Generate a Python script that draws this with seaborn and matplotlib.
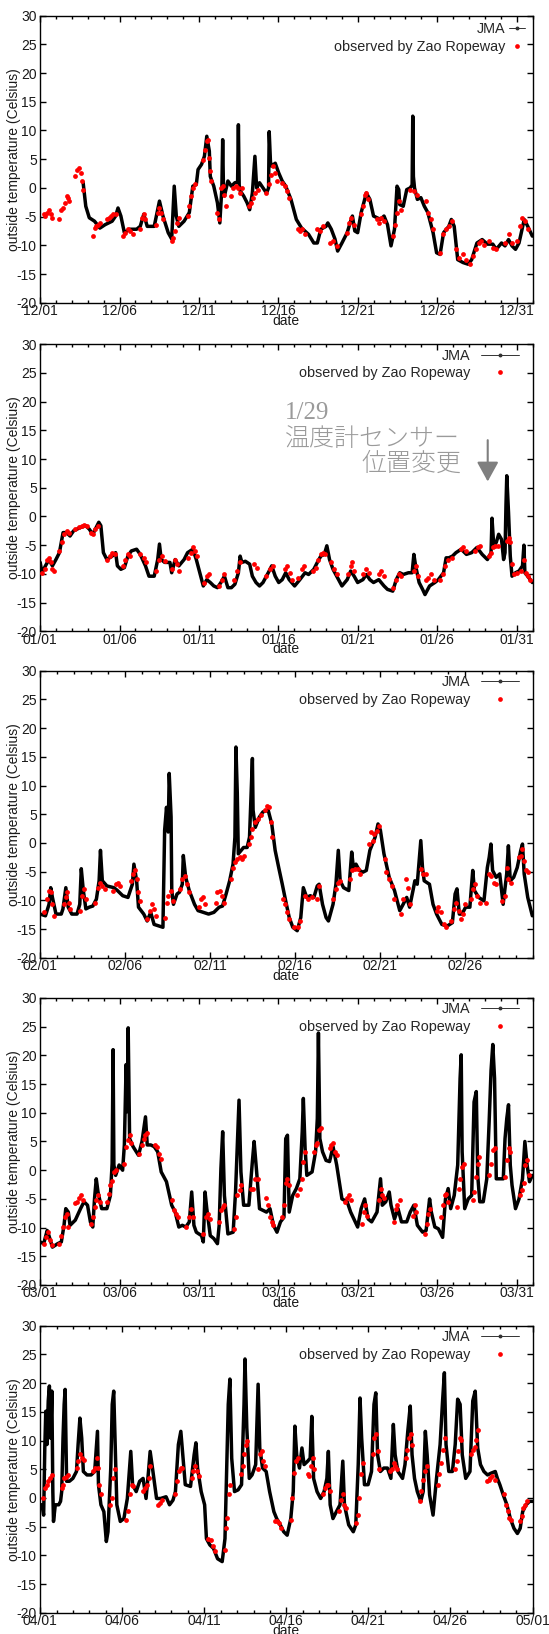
import matplotlib
matplotlib.use('Agg')
import matplotlib.pyplot as plt
from matplotlib.lines import Line2D
from matplotlib.ticker import MultipleLocator
import pandas as pd
import seaborn as sns

# ---------------- data (day offset from 1st of month, temperature in Celsius) ----------------
dec_jma = [(2.70,1.0),(2.87,-3.2),(3.09,-5.2),(3.42,-5.8),(3.76,-7.0),(4.09,-6.4),(4.53,-5.8),(4.75,-4.9),(4.90,-3.5),(5.08,-4.9),(5.30,-7.8),(5.63,-7.2),(6.07,-7.2),(6.30,-6.7),(6.52,-4.6),(6.74,-6.7),(7.18,-6.7),(7.51,-2.3),(7.73,-4.9),(8.06,-7.8),(8.28,-8.9),(8.44,0.3),(8.57,-4.9),(8.73,-6.7),(9.06,-5.8),(9.39,-4.3),(9.61,0.3),(9.83,0.6),(9.94,3.2),(10.16,4.1),(10.34,5.5),(10.49,9.0),(10.65,6.4),(10.71,2.0),(10.93,0.3),(11.16,-2.6),(11.31,-6.1),(11.44,0.0),(11.49,8.4),(11.54,0.0),(11.60,-1.4),(11.82,1.2),(12.04,0.3),(12.26,0.9),(12.43,1.0),(12.48,11.0),(12.53,0.5),(12.59,-0.5),(12.81,-1.4),(13.03,-2.6),(13.19,-3.8),(13.36,-0.9),(13.52,5.5),(13.63,0.0),(13.81,0.9),(14.25,-0.9),(14.38,0.0),(14.42,9.8),(14.50,4.5),(14.58,3.8),(14.80,4.3),(15.02,2.6),(15.24,1.2),(15.46,0.3),(15.79,-2.0),(16.13,-5.5),(16.46,-7.0),(16.90,-8.1),(17.23,-9.6),(17.45,-9.6),(17.67,-7.2),(18.00,-6.7),(18.11,-6.1),(18.33,-7.2),(18.56,-8.9),(18.73,-11.0),(19.00,-9.6),(19.33,-7.8),(19.55,-5.8),(19.66,-4.9),(19.81,-7.5),(19.99,-7.8),(20.21,-4.3),(20.54,-0.9),(20.76,-2.0),(20.99,-4.9),(21.43,-5.5),(21.65,-4.9),(21.87,-6.4),(22.09,-10.1),(22.31,-7.2),(22.47,0.3),(22.58,-0.3),(22.64,-2.9),(22.86,-3.2),(23.08,-0.3),(23.30,0.0),(23.42,0.5),(23.46,12.5),(23.50,2.0),(23.57,0.0),(23.75,-2.0),(23.97,-1.7),(24.19,-3.2),(24.41,-4.3),(24.74,-7.8),(24.96,-11.3),(25.18,-11.6),(25.40,-7.8),(25.73,-6.7),(25.89,-5.5),(26.07,-6.7),(26.29,-12.5),(26.62,-13.0),(26.95,-13.3),(27.17,-12.5),(27.50,-9.6),(27.83,-9.0),(28.16,-9.8),(28.50,-9.8),(28.72,-10.7),(29.05,-9.6),(29.27,-10.1),(29.49,-9.0),(29.71,-10.1),(29.93,-10.7),(30.15,-9.6),(30.48,-5.5),(30.70,-6.7),(30.99,-8.4)]

dec_zao = [(0.22,-4.6),(0.33,-4.9),(0.44,-4.3),(0.55,-3.9),(0.66,-4.6),(0.77,-5.2),(1.21,-5.5),(1.33,-3.9),(1.44,-3.5),(1.55,-2.6),(1.66,-1.4),(1.77,-1.7),(1.80,-2.3),(2.21,2.0),(2.32,3.2),(2.43,3.5),(2.54,2.6),(2.61,1.2),(2.70,-0.3),(3.31,-8.4),(3.42,-7.0),(3.53,-6.7),(3.64,-6.4),(3.76,-6.1),(4.20,-5.5),(4.33,-5.2),(4.46,-4.9),(4.59,-4.6),(4.75,-4.6),(5.19,-8.4),(5.35,-7.8),(5.52,-7.2),(5.68,-7.5),(5.85,-8.1),(6.30,-7.2),(6.41,-5.2),(6.52,-4.6),(6.63,-5.5),(7.29,-6.4),(7.40,-4.3),(7.51,-3.5),(7.62,-4.3),(7.73,-5.5),(8.28,-9.3),(8.39,-8.7),(8.50,-7.5),(8.61,-6.1),(8.73,-5.2),(9.28,-4.9),(9.39,-3.2),(9.50,-1.4),(9.61,0.0),(9.72,0.6),(10.27,4.9),(10.38,6.6),(10.49,8.1),(10.56,8.4),(10.60,5.2),(10.67,2.9),(10.74,1.2),(11.16,-4.3),(11.27,-5.5),(11.38,0.0),(11.49,0.3),(11.60,-1.2),(11.71,-3.2),(12.04,-1.4),(12.17,0.0),(12.30,0.3),(12.44,0.0),(12.57,-0.9),(12.70,0.0),(13.14,-3.2),(13.28,-2.6),(13.41,-1.7),(13.54,-0.9),(13.70,-0.3),(14.25,-0.9),(14.38,0.6),(14.51,2.3),(14.65,3.8),(14.78,2.6),(14.91,1.2),(15.24,0.9),(15.40,0.3),(15.53,-0.6),(15.68,-1.7),(16.24,-7.2),(16.37,-7.5),(16.50,-7.2),(16.68,-8.1),(17.45,-7.2),(17.61,-7.5),(17.78,-6.7),(18.22,-9.6),(18.44,-9.3),(18.67,-10.1),(19.33,-7.8),(19.44,-6.1),(19.55,-5.2),(19.73,-6.4),(20.21,-4.6),(20.32,-3.2),(20.43,-1.2),(20.54,-0.9),(20.65,-2.0),(21.21,-5.5),(21.36,-6.1),(21.49,-5.2),(21.65,-5.8),(22.20,-8.4),(22.33,-6.4),(22.47,-4.3),(22.60,-2.3),(22.75,-3.8),(23.30,-0.3),(23.53,-0.6),(23.75,-1.2),(24.30,-2.3),(24.45,-4.3),(24.59,-5.5),(24.74,-7.2),(25.18,-11.3),(25.36,-8.1),(25.56,-7.2),(25.76,-6.7),(25.96,-5.8),(26.18,-10.7),(26.40,-12.2),(26.62,-11.6),(26.84,-12.5),(27.06,-13.3),(27.28,-11.9),(27.45,-10.7),(27.61,-9.6),(27.77,-9.3),(27.94,-9.9),(28.27,-9.3),(28.50,-10.4),(28.72,-10.7),(29.27,-9.6),(29.49,-8.1),(29.71,-9.6),(30.04,-9.3),(30.22,-6.7),(30.37,-5.2),(30.55,-5.8),(30.70,-7.2)]

jan_jma = [(0.00,-8.0),(0.11,-9.8),(0.33,-8.6),(0.55,-7.5),(0.77,-8.6),(0.99,-7.5),(1.21,-6.3),(1.33,-4.5),(1.44,-2.8),(1.66,-2.8),(1.88,-3.4),(2.10,-2.5),(2.54,-1.9),(2.87,-1.6),(3.09,-2.2),(3.31,-3.1),(3.53,-1.9),(3.69,-1.0),(3.82,-1.6),(3.98,-6.3),(4.20,-7.5),(4.53,-6.9),(4.75,-6.3),(4.86,-8.6),(5.08,-9.2),(5.30,-8.9),(5.52,-6.9),(5.74,-6.0),(6.07,-5.7),(6.30,-6.6),(6.63,-8.6),(6.85,-10.4),(7.18,-10.4),(7.40,-7.5),(7.51,-4.8),(7.62,-7.5),(7.84,-8.0),(8.17,-8.0),(8.28,-9.8),(8.50,-7.5),(8.73,-8.6),(9.06,-7.5),(9.28,-6.3),(9.61,-5.7),(9.83,-7.5),(10.05,-9.8),(10.27,-12.1),(10.49,-11.0),(10.71,-11.5),(10.93,-12.1),(11.16,-12.4),(11.38,-11.5),(11.60,-10.4),(11.82,-12.4),(12.04,-12.4),(12.26,-11.8),(12.48,-9.8),(12.59,-6.9),(12.70,-8.0),(12.92,-7.8),(13.19,-8.3),(13.36,-10.4),(13.59,-11.5),(13.81,-12.1),(14.03,-11.5),(14.36,-9.8),(14.58,-8.6),(14.80,-10.4),(15.02,-11.5),(15.24,-11.0),(15.46,-9.8),(15.68,-11.0),(16.02,-12.1),(16.35,-11.0),(16.68,-9.8),(16.90,-10.1),(17.23,-9.2),(17.45,-8.0),(17.67,-6.9),(17.89,-6.6),(18.05,-5.1),(18.22,-7.5),(18.44,-9.2),(18.67,-10.4),(19.00,-12.1),(19.33,-11.0),(19.55,-9.5),(19.77,-10.4),(19.99,-11.5),(20.32,-11.0),(20.54,-10.1),(20.76,-11.0),(20.99,-11.5),(21.32,-11.0),(21.65,-12.1),(21.87,-12.7),(22.20,-13.0),(22.42,-11.0),(22.64,-9.8),(22.86,-10.1),(23.19,-9.8),(23.42,-9.8),(23.53,-6.6),(23.64,-8.6),(23.86,-11.5),(24.08,-12.7),(24.23,-13.6),(24.52,-12.1),(24.85,-11.5),(25.07,-11.0),(25.40,-9.8),(25.56,-7.2),(25.73,-7.2),(25.96,-6.9),(26.18,-6.3),(26.51,-5.7),(26.84,-6.6),(27.17,-6.3),(27.50,-5.4),(27.83,-6.6),(28.16,-7.5),(28.39,-6.3),(28.45,-0.3),(28.56,-5.1),(28.72,-4.5),(28.87,-3.1),(29.05,-4.0),(29.18,-7.5),(29.27,-6.3),(29.33,2.0),(29.38,7.1),(29.45,3.0),(29.49,0.7),(29.60,-6.9),(29.71,-10.4),(29.93,-9.8),(30.15,-9.5),(30.37,-8.6),(30.46,-5.0),(30.52,-9.8),(30.70,-10.4),(30.99,-11.5)]

jan_zao = [(0.11,-9.8),(0.29,-9.2),(0.44,-7.5),(0.55,-7.2),(0.66,-8.0),(0.77,-9.2),(0.88,-9.5),(1.21,-6.0),(1.37,-4.5),(1.50,-3.1),(1.66,-2.5),(1.81,-2.8),(2.21,-2.2),(2.43,-1.9),(2.61,-1.6),(2.76,-1.5),(2.92,-1.6),(3.20,-2.8),(3.31,-3.1),(3.47,-2.2),(3.64,-1.6),(4.20,-7.5),(4.37,-6.9),(4.53,-6.3),(4.68,-6.6),(5.19,-8.6),(5.37,-7.5),(5.52,-6.6),(5.68,-6.9),(6.30,-6.6),(6.52,-7.2),(6.69,-8.0),(7.29,-9.5),(7.51,-7.5),(7.67,-6.9),(7.84,-7.8),(8.28,-9.2),(8.50,-7.5),(8.61,-8.3),(8.77,-9.5),(9.28,-7.2),(9.50,-6.3),(9.61,-5.4),(9.76,-6.0),(9.87,-6.9),(10.32,-11.5),(10.49,-10.4),(10.65,-10.1),(11.27,-12.1),(11.42,-11.0),(11.60,-10.1),(12.22,-11.0),(12.37,-9.5),(12.55,-8.0),(13.47,-8.3),(13.65,-8.9),(14.25,-10.4),(14.47,-9.2),(14.65,-8.6),(15.40,-9.2),(15.57,-8.6),(15.75,-9.8),(15.86,-11.0),(16.24,-10.7),(16.46,-9.2),(16.63,-8.6),(17.19,-9.5),(17.34,-8.9),(17.52,-7.5),(17.67,-6.6),(17.83,-6.3),(17.96,-6.6),(18.33,-8.0),(18.51,-9.2),(18.67,-10.1),(19.37,-10.1),(19.55,-8.6),(19.66,-8.0),(19.77,-9.5),(20.32,-10.1),(20.54,-9.2),(20.70,-9.8),(21.36,-10.1),(21.49,-9.5),(21.63,-10.4),(22.24,-12.4),(22.42,-11.0),(22.58,-10.1),(22.75,-10.4),(23.53,-9.5),(23.64,-8.6),(23.79,-10.4),(24.30,-11.0),(24.45,-10.7),(24.63,-10.1),(24.81,-11.0),(25.18,-11.0),(25.34,-10.1),(25.52,-8.6),(25.69,-7.5),(25.96,-7.2),(26.51,-5.7),(26.62,-5.4),(26.80,-6.0),(27.39,-6.0),(27.55,-5.4),(27.68,-5.1),(28.27,-6.9),(28.39,-6.3),(28.50,-5.4),(28.65,-5.1),(28.83,-5.1),(29.38,-4.2),(29.49,-3.7),(29.60,-4.5),(29.71,-8.3),(29.82,-10.1),(30.04,-9.8),(30.26,-9.5),(30.44,-7.5),(30.59,-9.8),(30.70,-10.4),(30.86,-11.0)]

feb_jma = [(0.00,-12.4),(0.31,-12.7),(0.52,-10.7),(0.62,-7.8),(0.72,-9.5),(0.93,-12.4),(1.24,-12.4),(1.34,-11.5),(1.51,-7.8),(1.65,-11.2),(1.86,-12.4),(2.17,-12.4),(2.33,-10.7),(2.42,-4.5),(2.54,-8.3),(2.69,-11.5),(2.89,-11.2),(3.10,-11.0),(3.31,-9.8),(3.47,-6.6),(3.55,-1.3),(3.66,-6.6),(3.93,-7.5),(4.34,-7.8),(4.55,-8.3),(4.86,-9.2),(5.17,-9.5),(5.43,-7.2),(5.52,-3.7),(5.68,-6.6),(5.79,-11.2),(6.10,-12.4),(6.30,-13.6),(6.51,-12.1),(6.71,-14.2),(7.02,-14.5),(7.23,-14.7),(7.33,2.2),(7.44,6.2),(7.54,1.9),(7.60,12.1),(7.71,4.5),(7.75,-8.3),(7.85,-10.7),(8.06,-8.9),(8.20,-8.6),(8.37,-7.2),(8.43,-2.2),(8.57,-6.0),(8.78,-8.3),(9.09,-10.7),(9.30,-11.8),(9.61,-12.1),(9.92,-12.4),(10.23,-12.1),(10.54,-11.2),(10.74,-11.0),(10.95,-8.9),(11.16,-6.6),(11.36,-3.7),(11.47,1.0),(11.53,16.7),(11.61,8.6),(11.67,-1.9),(11.84,-1.3),(11.98,-0.8),(12.19,-0.8),(12.33,1.0),(12.44,9.7),(12.50,14.7),(12.54,5.7),(12.67,2.7),(12.91,4.5),(13.12,5.4),(13.43,5.7),(13.64,3.3),(13.84,-1.3),(14.05,-4.3),(14.26,-7.2),(14.46,-10.1),(14.67,-13.0),(14.88,-14.7),(15.14,-15.3),(15.35,-13.0),(15.50,-7.8),(15.70,-9.5),(15.91,-9.2),(16.12,-9.5),(16.32,-7.5),(16.43,-7.2),(16.63,-10.7),(16.84,-13.0),(16.98,-13.6),(17.25,-10.7),(17.42,-7.2),(17.56,-1.3),(17.67,-6.6),(17.87,-7.8),(18.18,-8.3),(18.35,-1.6),(18.45,-4.3),(18.60,-3.7),(18.80,-4.8),(19.01,-5.1),(19.21,-4.8),(19.42,-1.3),(19.73,1.0),(19.90,3.3),(20.04,2.2),(20.25,-1.9),(20.56,-6.0),(20.87,-8.3),(21.18,-11.8),(21.38,-10.7),(21.59,-9.5),(21.76,-11.2),(21.96,-8.3),(22.07,-6.6),(22.21,-7.2),(22.42,0.4),(22.52,-4.3),(22.62,-6.6),(22.93,-7.2),(23.14,-10.7),(23.35,-12.4),(23.66,-14.2),(23.97,-14.5),(24.28,-13.9),(24.44,-8.9),(24.55,-8.0),(24.69,-12.4),(24.85,-12.4),(25.06,-11.2),(25.31,-11.2),(25.48,-4.8),(25.58,-8.3),(25.83,-9.5),(26.14,-10.1),(26.34,-4.3),(26.45,-2.5),(26.55,-0.2),(26.65,-4.8),(26.86,-6.0),(27.07,-5.4),(27.27,-10.7),(27.48,-5.4),(27.58,-0.5),(27.69,-6.6),(27.89,-6.0),(28.10,-4.3),(28.31,-1.3),(28.41,-0.2),(28.51,-5.4),(28.72,-9.5),(28.99,-12.7)]

feb_zao = [(0.21,-12.1),(0.41,-9.8),(0.52,-8.3),(0.62,-8.6),(0.72,-10.7),(0.83,-12.7),(1.38,-10.7),(1.51,-9.5),(1.59,-8.6),(1.69,-10.4),(1.76,-11.5),(2.33,-11.8),(2.48,-9.2),(2.58,-8.0),(2.69,-9.8),(3.24,-10.4),(3.41,-7.8),(3.51,-6.9),(3.66,-7.5),(3.82,-8.0),(4.28,-8.3),(4.44,-7.2),(4.59,-7.0),(4.71,-7.5),(5.37,-6.6),(5.48,-5.4),(5.58,-4.8),(5.68,-6.3),(5.79,-8.6),(5.89,-10.1),(6.30,-13.3),(6.47,-11.8),(6.61,-10.7),(6.71,-11.5),(6.82,-12.7),(7.33,-13.0),(7.44,-10.4),(7.54,-9.2),(7.69,-8.3),(7.81,-10.1),(8.26,-8.0),(8.37,-6.3),(8.51,-5.7),(8.64,-7.2),(8.78,-8.6),(9.34,-11.2),(9.46,-9.8),(9.61,-9.5),(9.71,-10.7),(10.33,-10.4),(10.43,-8.6),(10.60,-8.3),(10.70,-9.2),(10.85,-10.4),(11.26,-6.3),(11.36,-4.3),(11.47,-3.4),(11.61,-2.8),(11.78,-2.5),(11.88,-2.8),(11.98,-2.2),(12.29,-0.2),(12.40,1.0),(12.50,2.4),(12.64,3.6),(12.81,4.2),(13.02,4.8),(13.22,5.7),(13.37,6.5),(13.49,6.2),(13.60,3.6),(13.68,1.0),(14.30,-9.8),(14.40,-10.7),(14.52,-12.1),(14.67,-13.3),(14.98,-14.7),(15.19,-14.7),(15.29,-13.6),(15.60,-9.2),(15.76,-9.8),(16.01,-9.5),(16.32,-9.8),(16.43,-7.5),(17.25,-9.8),(17.40,-8.0),(17.52,-6.9),(17.67,-6.6),(18.22,-6.3),(18.39,-4.8),(18.53,-4.5),(18.70,-4.5),(18.86,-5.4),(19.36,-0.2),(19.48,1.9),(19.59,0.4),(19.69,1.6),(19.83,2.1),(19.94,3.0),(20.29,-2.8),(20.39,-5.1),(20.56,-6.3),(20.72,-7.5),(20.87,-9.8),(21.24,-12.4),(21.38,-9.8),(21.53,-6.3),(21.65,-7.8),(21.80,-10.7),(22.42,-4.5),(22.56,-5.4),(22.73,-5.4),(23.35,-11.8),(23.45,-11.2),(23.60,-12.1),(23.76,-14.2),(23.91,-14.7),(24.17,-13.6),(24.38,-11.5),(24.48,-10.4),(24.65,-11.8),(24.79,-13.3),(24.90,-12.4),(25.00,-10.7),(25.37,-9.8),(25.52,-8.0),(25.62,-7.2),(25.76,-9.2),(25.89,-10.4),(26.24,-10.4),(26.45,-5.4),(26.55,-5.7),(26.71,-6.9),(26.86,-7.2),(27.23,-10.1),(27.38,-9.2),(27.48,-4.3),(27.58,-6.3),(27.75,-6.9),(28.20,-2.5),(28.31,-2.2),(28.41,-1.0),(28.51,-3.1),(28.62,-4.8),(28.72,-5.1)]

mar_jma = [(0.00,-12.5),(0.22,-12.8),(0.44,-10.5),(0.55,-11.4),(0.77,-13.4),(1.10,-12.8),(1.33,-12.5),(1.50,-9.6),(1.61,-6.7),(1.77,-7.3),(1.88,-9.6),(2.21,-8.7),(2.54,-6.7),(2.76,-5.5),(2.98,-6.1),(3.16,-9.0),(3.31,-9.9),(3.42,-5.0),(3.53,-1.5),(3.64,-3.8),(3.87,-6.7),(4.20,-6.7),(4.42,-4.4),(4.53,1.2),(4.59,21.0),(4.64,0.9),(4.75,-0.9),(4.97,0.9),(5.19,0.0),(5.30,4.4),(5.41,18.4),(5.48,10.2),(5.54,24.8),(5.63,5.5),(5.85,4.1),(6.19,2.6),(6.41,5.0),(6.63,9.3),(6.74,4.4),(6.96,4.4),(7.18,4.1),(7.40,3.2),(7.62,-0.3),(7.95,-2.0),(8.28,-6.1),(8.50,-7.3),(8.73,-9.9),(8.95,-9.6),(9.17,-9.9),(9.39,-9.0),(9.54,-3.8),(9.68,-9.6),(9.83,-10.8),(10.16,-11.4),(10.27,-12.5),(10.38,-3.8),(10.49,-6.7),(10.71,-11.4),(10.93,-11.9),(11.16,-12.8),(11.27,-9.6),(11.38,0.3),(11.49,6.7),(11.60,-4.4),(11.82,-11.1),(12.15,-10.8),(12.30,-3.8),(12.41,4.4),(12.52,12.2),(12.64,-0.3),(12.81,-6.1),(13.14,-6.1),(13.36,1.5),(13.47,5.0),(13.63,-0.3),(13.81,-6.7),(14.25,-7.3),(14.47,-6.7),(14.69,-9.6),(14.91,-10.8),(15.13,-9.0),(15.35,-8.2),(15.46,5.5),(15.57,6.1),(15.68,-7.3),(15.90,-4.4),(16.13,-3.2),(16.35,-1.5),(16.50,6.7),(16.57,12.5),(16.68,3.8),(16.79,-0.9),(17.12,-0.3),(17.34,3.2),(17.45,9.0),(17.52,23.9),(17.61,5.5),(17.78,3.2),(18.00,1.7),(18.22,1.5),(18.44,4.1),(18.67,0.9),(19.00,-5.0),(19.33,-5.5),(19.55,-7.3),(19.99,-9.9),(20.21,-6.7),(20.43,-5.0),(20.65,-8.5),(20.87,-9.0),(21.21,-7.3),(21.43,-1.5),(21.54,-6.1),(21.76,-5.5),(21.98,-3.8),(22.09,-6.1),(22.31,-8.5),(22.53,-6.7),(22.75,-9.0),(23.08,-9.0),(23.30,-7.3),(23.53,-6.1),(23.75,-9.6),(24.08,-10.8),(24.30,-10.5),(24.52,-5.0),(24.63,-7.3),(24.85,-9.9),(25.07,-10.2),(25.34,-11.7),(25.52,-5.0),(25.69,-3.2),(25.85,-6.7),(26.07,-4.4),(26.29,0.9),(26.44,16.0),(26.51,20.1),(26.57,3.2),(26.73,-6.7),(26.95,-5.0),(27.17,-4.4),(27.32,11.9),(27.46,13.7),(27.55,-0.9),(27.68,-5.5),(27.90,-5.5),(28.12,-1.5),(28.27,8.4),(28.39,17.4),(28.50,21.9),(28.61,16.0),(28.72,-1.5),(28.94,-1.5),(29.16,-1.5),(29.27,5.5),(29.38,9.0),(29.49,11.4),(29.60,0.9),(29.71,-2.6),(29.93,-6.7),(30.15,-5.0),(30.37,-1.5),(30.52,5.0),(30.66,0.9),(30.81,-2.0),(30.99,-0.9)]

mar_zao = [(0.22,-12.8),(0.38,-11.7),(0.49,-10.8),(0.60,-12.2),(0.73,-13.1),(1.21,-12.8),(1.33,-11.4),(1.44,-9.9),(1.55,-8.2),(1.66,-7.6),(1.77,-9.9),(2.21,-5.8),(2.32,-5.5),(2.43,-4.9),(2.58,-4.4),(2.72,-5.2),(3.20,-9.3),(3.31,-8.2),(3.42,-6.4),(3.53,-5.2),(3.64,-4.4),(3.76,-5.5),(4.20,-5.5),(4.31,-4.1),(4.42,-2.6),(4.53,-1.8),(4.64,-0.3),(4.75,0.0),(5.30,1.1),(5.41,4.1),(5.52,5.2),(5.63,6.1),(5.74,4.7),(6.23,2.9),(6.41,4.4),(6.52,5.5),(6.63,6.1),(6.74,6.4),(7.22,4.4),(7.36,4.1),(7.51,2.9),(7.62,2.0),(8.33,-5.2),(8.44,-7.0),(8.57,-7.6),(8.68,-8.2),(9.21,-9.9),(9.39,-8.2),(9.50,-6.7),(9.65,-8.2),(10.27,-11.1),(10.45,-8.2),(10.56,-7.6),(10.71,-8.5),(11.27,-9.0),(11.38,-7.0),(11.49,-6.4),(11.60,-6.1),(12.22,-10.2),(12.33,-8.2),(12.41,-4.4),(12.55,-3.5),(12.66,-2.6),(13.25,-3.2),(13.41,-3.2),(13.54,-1.5),(13.70,-1.5),(14.25,-4.9),(14.36,-6.1),(14.47,-8.2),(14.58,-9.0),(14.69,-9.6),(15.24,-8.2),(15.35,-6.1),(15.46,-2.3),(15.57,-1.5),(15.68,-2.6),(16.19,-4.4),(16.35,-3.2),(16.46,-1.5),(16.57,1.5),(16.68,3.2),(17.23,3.2),(17.34,4.4),(17.45,4.7),(17.56,7.0),(17.67,7.3),(18.22,3.8),(18.33,4.4),(18.44,4.7),(18.56,3.2),(18.67,2.6),(19.22,-5.5),(19.33,-4.9),(19.44,-4.4),(19.55,-5.2),(20.26,-9.3),(20.37,-7.3),(20.43,-6.1),(20.59,-7.9),(21.32,-5.2),(21.43,-3.2),(21.54,-4.4),(21.65,-4.9),(22.27,-9.0),(22.38,-6.7),(22.49,-6.1),(22.64,-5.2),(23.46,-7.9),(23.57,-6.1),(23.68,-7.3),(24.23,-11.1),(24.34,-9.3),(24.45,-7.6),(24.56,-6.7),(25.25,-8.2),(25.36,-6.1),(25.47,-4.4),(25.58,-4.1),(25.69,-5.5),(26.24,-6.4),(26.35,-3.2),(26.46,-1.5),(26.57,0.6),(26.68,1.1),(27.24,-5.2),(27.32,-3.8),(27.44,-1.2),(27.55,1.1),(27.66,2.3),(28.27,-0.9),(28.39,1.1),(28.50,3.5),(28.61,3.8),(29.27,-1.2),(29.38,1.7),(29.49,3.8),(29.60,3.2),(30.20,-4.4),(30.33,-3.5),(30.44,-2.3),(30.55,0.9),(30.66,1.7),(30.77,-0.9)]

apr_jma = [(0.00,-1.2),(0.11,-1.2),(0.21,-3.0),(0.28,8.7),(0.34,15.1),(0.41,9.3),(0.49,16.9),(0.56,19.5),(0.64,10.4),(0.71,18.6),(0.77,1.1),(0.81,-4.1),(0.92,-1.2),(1.13,-1.2),(1.24,-0.6),(1.31,1.1),(1.39,10.4),(1.46,16.3),(1.52,18.9),(1.61,2.9),(1.78,2.9),(1.99,3.4),(2.21,4.6),(2.31,9.3),(2.42,13.9),(2.53,10.4),(2.63,4.6),(2.85,4.0),(3.10,4.0),(3.32,4.6),(3.49,11.6),(3.55,2.3),(3.70,-1.2),(3.88,-2.4),(4.03,-7.6),(4.13,-5.9),(4.30,5.2),(4.39,16.3),(4.48,18.6),(4.56,10.4),(4.67,-1.2),(4.88,-4.1),(5.10,-3.6),(5.31,-0.1),(5.52,8.1),(5.63,2.3),(5.85,1.1),(6.06,2.9),(6.27,3.4),(6.45,-0.1),(6.60,4.6),(6.70,8.1),(6.87,4.6),(7.09,-0.1),(7.34,-0.1),(7.67,0.2),(7.88,-1.2),(8.09,-0.4),(8.24,1.1),(8.42,9.3),(8.57,11.6),(8.67,8.1),(8.84,2.3),(9.16,2.0),(9.38,7.5),(9.49,9.6),(9.59,5.2),(9.81,1.1),(10.02,-1.2),(10.13,-7.1),(10.34,-8.2),(10.56,-8.8),(10.81,-10.6),(11.09,-11.1),(11.26,-7.1),(11.35,3.4),(11.46,16.3),(11.56,20.7),(11.67,6.9),(11.84,1.1),(12.06,1.4),(12.27,2.3),(12.42,16.3),(12.48,24.2),(12.59,12.2),(12.74,3.4),(12.91,4.0),(13.13,5.8),(13.28,19.8),(13.38,8.7),(13.55,5.2),(13.77,4.6),(13.98,1.1),(14.24,-2.4),(14.41,-3.6),(14.63,-4.7),(14.84,-5.9),(15.05,-6.5),(15.27,-3.6),(15.42,1.1),(15.52,12.5),(15.63,7.5),(15.80,5.2),(15.95,8.7),(16.08,5.8),(16.30,6.4),(16.45,6.9),(16.55,14.2),(16.66,3.4),(16.87,1.1),(17.09,-0.1),(17.30,1.1),(17.47,3.4),(17.56,8.1),(17.67,-1.2),(17.84,-3.6),(18.05,-2.4),(18.27,-1.2),(18.44,6.4),(18.54,-1.2),(18.80,-4.7),(19.08,-5.9),(19.23,-4.7),(19.38,5.8),(19.49,17.4),(19.59,10.4),(19.76,2.3),(19.98,2.3),(20.19,4.6),(20.34,16.3),(20.45,18.3),(20.56,7.5),(20.73,4.6),(20.94,5.2),(21.16,5.2),(21.37,3.4),(21.52,12.8),(21.63,7.5),(21.80,4.6),(22.08,3.4),(22.23,5.8),(22.40,11.6),(22.55,16.0),(22.66,7.5),(22.81,3.4),(22.98,1.1),(23.19,-0.6),(23.34,1.1),(23.47,11.6),(23.58,7.5),(23.73,0.5),(23.94,-3.0),(24.15,3.4),(24.37,9.3),(24.52,16.9),(24.63,21.8),(24.73,9.3),(24.90,4.6),(25.12,4.6),(25.29,9.3),(25.44,17.2),(25.59,16.3),(25.72,7.5),(25.93,3.4),(26.19,4.6),(26.36,16.9),(26.51,18.6),(26.66,8.7),(26.83,5.8),(27.04,4.6),(27.26,4.0),(27.47,4.3),(27.73,4.6),(27.86,3.4),(28.01,2.3),(28.22,0.5),(28.44,-1.2),(28.65,-3.6),(28.87,-5.3),(29.08,-6.2),(29.25,-5.3),(29.40,-2.4),(29.61,-1.2),(29.82,-0.6),(30.00,-0.6)]

apr_zao = [(0.17,0.0),(0.28,1.7),(0.39,2.3),(0.49,2.9),(0.60,3.5),(0.71,4.0),(1.31,1.7),(1.39,2.3),(1.48,3.4),(1.56,3.7),(1.67,4.0),(2.25,5.2),(2.33,6.4),(2.44,7.6),(2.55,7.0),(2.66,6.6),(3.23,4.6),(3.32,5.2),(3.45,7.0),(3.55,5.2),(3.60,2.3),(3.70,0.6),(4.24,-1.2),(4.35,0.0),(4.45,3.5),(4.56,5.0),(5.25,-3.8),(5.35,-2.3),(5.46,0.6),(5.57,2.3),(5.67,2.0),(6.27,1.2),(6.38,1.7),(6.49,2.3),(6.60,3.4),(6.70,5.5),(7.17,-1.2),(7.30,-0.9),(7.45,-0.3),(8.24,0.6),(8.35,2.9),(8.46,4.6),(8.57,5.2),(8.67,5.2),(9.23,3.5),(9.34,4.6),(9.44,5.5),(9.55,4.6),(9.66,3.8),(10.24,-7.1),(10.39,-7.4),(10.51,-8.3),(10.66,-9.2),(11.24,-9.0),(11.31,-5.3),(11.41,-3.5),(11.48,0.6),(11.56,2.3),(12.22,4.1),(12.33,5.5),(12.44,7.6),(12.55,9.3),(12.63,9.9),(13.28,5.0),(13.38,7.6),(13.49,8.1),(13.60,6.4),(13.70,5.5),(14.30,-4.1),(14.41,-4.1),(14.56,-4.4),(14.69,-5.3),(15.27,-3.8),(15.37,0.0),(15.48,4.4),(15.59,6.4),(15.70,7.0),(16.30,4.1),(16.38,3.8),(16.49,5.5),(16.60,7.0),(16.66,5.0),(17.24,0.6),(17.34,1.7),(17.45,2.3),(17.56,2.3),(17.67,1.2),(18.22,-2.3),(18.33,-0.3),(18.44,0.6),(18.54,-1.2),(18.65,-1.7),(19.23,-4.4),(19.34,-2.9),(19.44,0.0),(19.55,4.1),(19.66,6.1),(20.26,7.6),(20.36,10.4),(20.47,11.1),(20.58,8.1),(20.62,5.0),(21.33,4.6),(21.43,5.0),(21.54,6.1),(21.65,5.5),(21.76,5.0),(22.27,7.0),(22.38,8.4),(22.48,10.4),(22.59,11.1),(22.66,9.3),(23.13,-0.6),(23.23,1.2),(23.34,3.2),(23.47,4.6),(23.58,5.5),(24.22,2.3),(24.33,4.1),(24.43,6.1),(24.54,8.4),(24.65,10.4),(25.27,5.0),(25.37,6.4),(25.48,8.1),(25.59,10.4),(25.65,10.1),(26.25,7.6),(26.36,8.4),(26.47,8.9),(26.57,10.1),(26.66,11.9),(27.22,2.9),(27.32,3.2),(27.43,3.4),(27.54,3.8),(27.69,3.2),(28.27,0.6),(28.37,-1.2),(28.48,-2.3),(28.59,-3.5),(28.72,-3.8),(29.23,-4.1),(29.34,-3.2),(29.44,-1.8),(29.55,-1.2),(29.66,-0.6)]

dec_ticks = ['12/01', '12/06', '12/11', '12/16', '12/21', '12/26', '12/31']
jan_ticks = ['01/01', '01/06', '01/11', '01/16', '01/21', '01/26', '01/31']
feb_ticks = ['02/01', '02/06', '02/11', '02/16', '02/21', '02/26']
mar_ticks = ['03/01', '03/06', '03/11', '03/16', '03/21', '03/26', '03/31']
apr_ticks = ['04/01', '04/06', '04/11', '04/16', '04/21', '04/26', '05/01']
month_days = [31, 31, 29, 31, 30]
y_ticks = [-20, -15, -10, -5, 0, 5, 10, 15, 20, 25, 30]
series_names = ['JMA', 'observed by Zao Ropeway']
note_date = '1/29'
note_line1 = '温度計センサー'
note_line2 = '位置変更'

# ---------------- style ----------------
sns.set_theme(style='ticks')
plt.rcParams['font.family'] = ['Liberation Sans', 'DejaVu Sans']
plt.rcParams['axes.linewidth'] = 1.0

W, H = 549, 1634
fig = plt.figure(figsize=(W / 100, H / 100), dpi=100)
fig.patch.set_facecolor('white')

tops = [15.7, 344.3, 670.7, 998.0, 1325.7]
left_px, right_px, h_px = 40.2, 532.5, 287.0
w_px = right_px - left_px

panels = [(dec_jma, dec_zao, dec_ticks), (jan_jma, jan_zao, jan_ticks),
          (feb_jma, feb_zao, feb_ticks), (mar_jma, mar_zao, mar_ticks),
          (apr_jma, apr_zao, apr_ticks)]

for k, (jma, zao, labels) in enumerate(panels):
    ndays = month_days[k]
    top = tops[k]
    ax = fig.add_axes([left_px / W, 1 - (top + h_px) / H, w_px / W, h_px / H])
    ax.set_facecolor('white')
    dj = pd.DataFrame(jma, columns=['day', 'temp'])
    dz = pd.DataFrame(zao, columns=['day', 'temp'])
    sns.lineplot(data=dj, x='day', y='temp', ax=ax, color='black', linewidth=2.5,
                 estimator=None, sort=False, legend=False, zorder=2)
    sns.scatterplot(data=dz, x='day', y='temp', ax=ax, color='#ff0000', s=12,
                    linewidth=0, legend=False, zorder=3)
    ax.set_xlim(0, ndays)
    ax.set_ylim(-20, 30)
    ax.set_xticks([5 * i for i in range(len(labels))])
    ax.set_xticklabels(labels)
    ax.xaxis.set_minor_locator(MultipleLocator(1))
    ax.set_yticks(y_ticks)
    ax.set_yticklabels([str(v) for v in y_ticks])
    ax.tick_params(which='both', direction='in', top=True, right=True,
                   color='black', labelcolor='#1a1a1a', width=1.0)
    ax.tick_params(which='major', length=4, labelsize=10)
    ax.tick_params(which='minor', length=2)
    ax.tick_params(axis='x', which='major', pad=1)
    ax.tick_params(axis='y', which='major', pad=2.5)
    for sp in ax.spines.values():
        sp.set_linewidth(1.0)
        sp.set_color('black')
    ax.set_xlabel('date', fontsize=10, va='center', color='#1a1a1a')
    ax.xaxis.set_label_coords(0.5, -18 / h_px)
    ax.set_ylabel('outside temperature (Celsius)', fontsize=10, va='center', color='#1a1a1a')
    ax.yaxis.set_label_coords(-26.5 / w_px, 0.5)

    h_j = Line2D([], [], color='#333333', lw=0.7, marker='o', markersize=1.8)
    h_z = Line2D([], [], ls='none', marker='o', color='#ff0000', markersize=3.4, markeredgewidth=0)
    if k == 0:
        hl, htp, anchor = 1.09, 0.24, (1 - 8 / w_px, 1 - 6.3 / h_px)
    else:
        hl, htp, anchor = 2.67, 0.73, (1 - 13.3 / w_px, 1 - 4.4 / h_px)
    ax.legend([h_j, h_z], series_names, loc='upper right', bbox_to_anchor=anchor,
              frameon=False, markerfirst=False, fontsize=10.4, handlelength=hl,
              handletextpad=htp, labelspacing=0.25, borderpad=0, borderaxespad=0,
              numpoints=1)

    if k == 1:
        gray = '#9a9a9a'
        ax.text(15.42, 18.0, note_date, fontsize=18, color=gray,
                family=['Liberation Serif', 'Noto Sans CJK JP'], ha='left', va='center')
        ax.text(15.42, 13.6, note_line1, fontsize=18, color=gray, fontweight='light',
                family=['Noto Sans CJK JP'], ha='left', va='center')
        ax.text(26.54, 9.15, note_line2, fontsize=18, color=gray, fontweight='light',
                family=['Noto Sans CJK JP'], ha='right', va='center')
        ax.annotate('', xy=(28.18, 6.1), xytext=(28.18, 13.3),
                    arrowprops=dict(arrowstyle='-|>,head_length=0.6,head_width=0.33',
                                    mutation_scale=20, color='#7f7f7f', lw=1.5,
                                    shrinkA=0, shrinkB=0))

fig.savefig('out.png', dpi=100, facecolor='white')
